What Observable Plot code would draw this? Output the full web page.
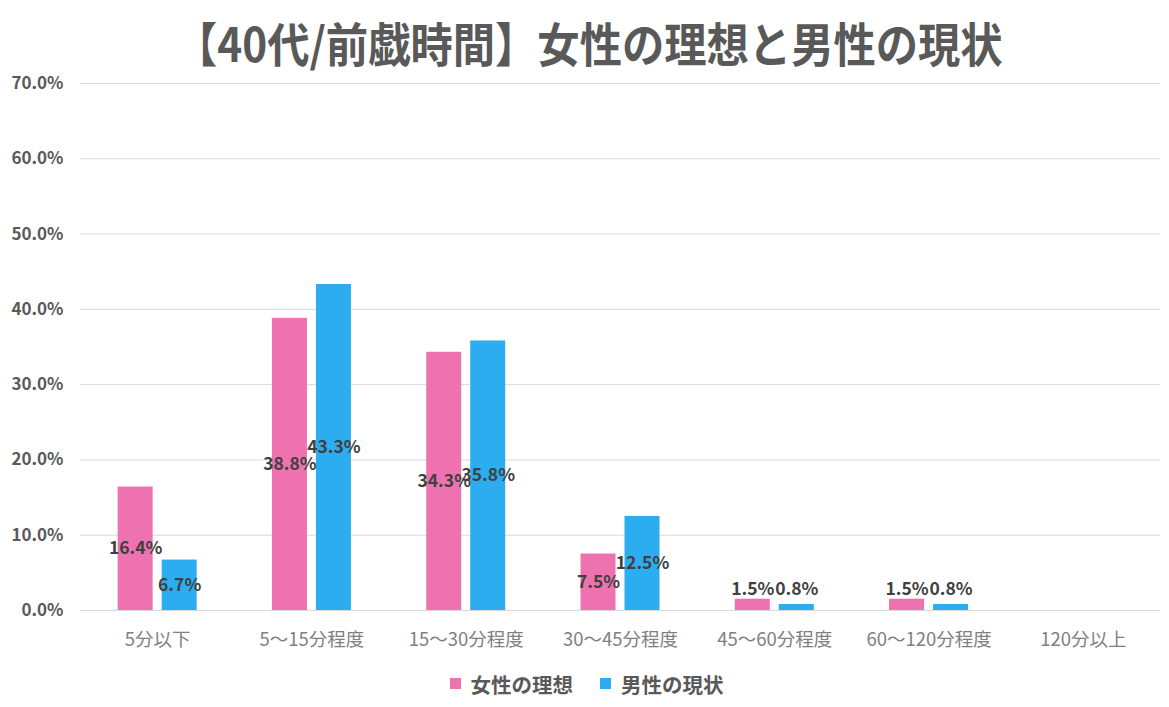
<!DOCTYPE html>
<html><head><meta charset="utf-8">
<script src="https://cdn.jsdelivr.net/npm/d3@7"></script>
<script src="https://cdn.jsdelivr.net/npm/@observablehq/plot@0.6"></script>
<style>
body{margin:0;background:#fff;font-family:"Noto Sans CJK JP","Noto Sans",sans-serif;width:1169px;}
#title{height:70px;text-align:center;color:#595959;white-space:nowrap;position:relative;z-index:1;}
#title span{display:inline-block;font-size:47px;font-weight:bold;line-height:84px;transform:scaleX(0.9);transform-origin:center;margin-left:8px;}
#chart svg{display:block;}
#chart g[aria-label="y-axis"] text, #chart g[aria-label="y-axis tick label"] text{font-weight:bold;fill:#595959;}
#chart g[aria-label="x-axis"] text, #chart g[aria-label="x-axis tick label"] text{fill:#808080;font-size:18.5px;}
#legend{height:47px;display:flex;justify-content:center;align-items:center;gap:27px;font-size:20.5px;font-weight:bold;color:#595959;padding-left:4px;box-sizing:border-box;}
#legend .item{display:flex;align-items:center;gap:10px;}
#legend .sw{width:11px;height:11px;display:inline-block;}
</style></head><body>
<div id="title"><span>【40代/前戯時間】女性の理想と男性の現状</span></div>
<div id="chart"></div>
<div id="legend"></div>
<script>
const categories = ["5分以下","5〜15分程度","15〜30分程度","30〜45分程度","45〜60分程度","60〜120分程度","120分以上"];
const seriesNames = ["女性の理想","男性の現状"];
const womenIdeal = [16.4, 38.8, 34.3, 7.5, 1.5, 1.5, 0];
const menActual = [6.7, 43.3, 35.8, 12.5, 0.8, 0.8, 0];
const yTicks = [0, 10, 20, 30, 40, 50, 60, 70];
const colors = ["#EE72AF", "#2BADEF"];

const women = categories.map((c, i) => ({category: c, series: seriesNames[0], value: womenIdeal[i]}));
const men = categories.map((c, i) => ({category: c, series: seriesNames[1], value: menActual[i]}));
const fmt = d => d.value.toFixed(1) + "%";
const labelStyle = {fontWeight: "bold", fill: "#404040", fontSize: 17.5};

function labels(rows, dx) {
  return [
    Plot.text(rows.filter(d => d.value >= 5), {x: "category", y: d => d.value / 2, text: fmt, dx, ...labelStyle}),
    Plot.text(rows.filter(d => d.value > 0 && d.value < 5), {x: "category", frameAnchor: "bottom", dy: -16, text: fmt, dx, ...labelStyle})
  ];
}

const chart = Plot.plot({
  width: 1169, height: 590,
  marginTop: 13, marginBottom: 50, marginLeft: 80, marginRight: 9,
  style: {fontFamily: '"Noto Sans CJK JP","Noto Sans",sans-serif', fontSize: "17px", background: "transparent", overflow: "visible"},
  x: {domain: categories, paddingInner: 0.488, paddingOuter: 0.244, round: false, label: null, tickSize: 0, tickPadding: 22},
  y: {domain: [0, 70], ticks: yTicks, label: null, tickSize: 0, tickPadding: 17, tickFormat: d => d.toFixed(1) + "%"},
  marks: [
    Plot.ruleY(yTicks, {stroke: "#d9d9d9", strokeWidth: 1}),
    Plot.barY(women, {x: "category", y: "value", fill: colors[0], insetRight: 44}),
    Plot.barY(men, {x: "category", y: "value", fill: colors[1], insetLeft: 44}),
    ...labels(women, -22),
    ...labels(men, 22)
  ]
});
document.getElementById("chart").appendChild(chart);

const legend = document.getElementById("legend");
seriesNames.forEach((s, i) => {
  const item = document.createElement("span");
  item.className = "item";
  item.innerHTML = `<span class="sw" style="background:${colors[i]}"></span><span>${s}</span>`;
  legend.appendChild(item);
});
</script>
</body></html>
